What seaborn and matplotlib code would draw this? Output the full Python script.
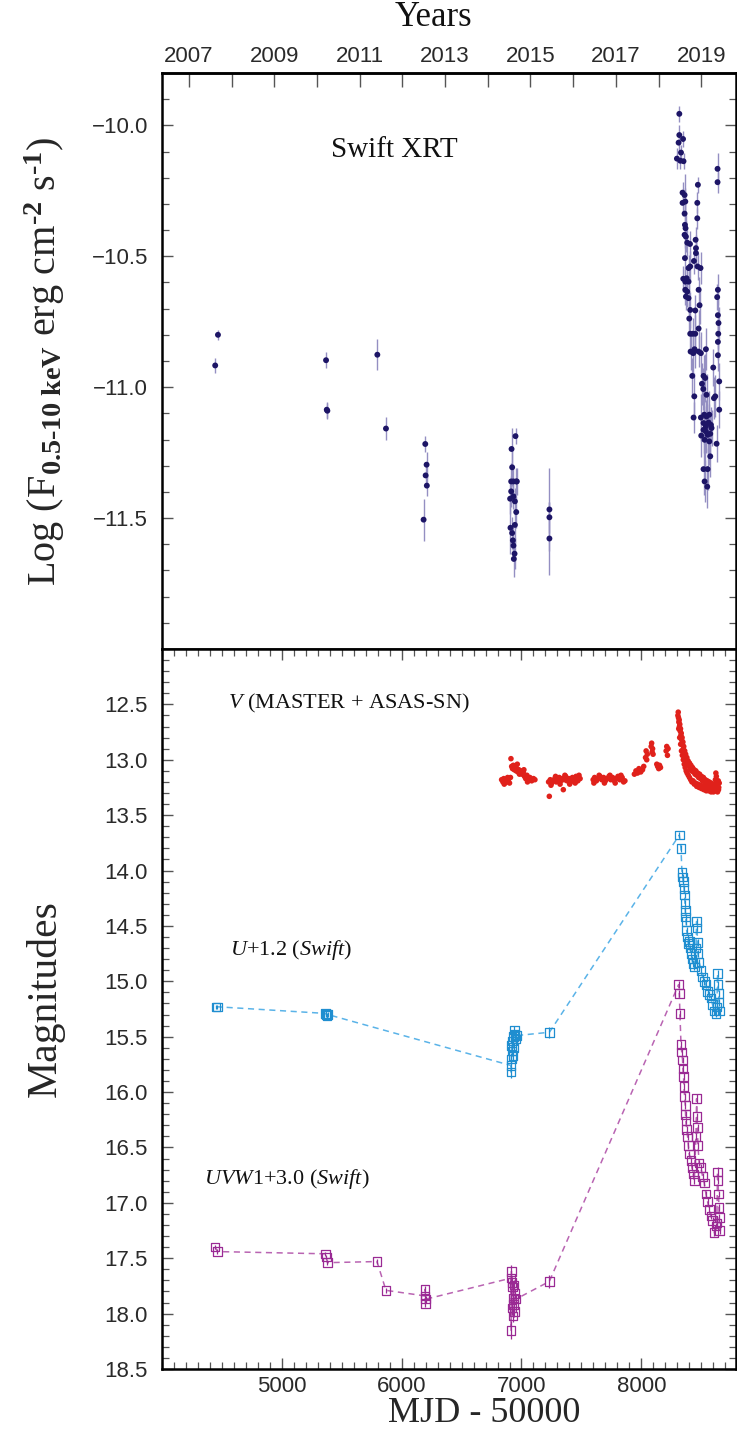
import matplotlib
matplotlib.use("Agg")
import matplotlib.pyplot as plt
from matplotlib.ticker import MultipleLocator, FixedLocator, FuncFormatter
import seaborn as sns

# ---------------- Swift XRT 0.5-10 keV flux (log) ----------------
xrt_mjd = [4444, 4467, 5369, 5375, 5380, 5797, 5869, 6183, 6197, 6200, 6208, 6210,
           6905, 6908, 6914, 6914, 6917, 6922, 6922, 6928, 6933, 6933, 6933, 6936,
           6942, 6945, 6945, 6950, 6956, 6956, 6961,
           7233, 7233, 7233,
           8297, 8311, 8317, 8317, 8325, 8331, 8344, 8344, 8348, 8350, 8352, 8361,
           8361, 8361, 8364, 8364, 8367, 8367, 8367, 8369, 8372, 8372, 8378, 8383,
           8383, 8394, 8394, 8394, 8400, 8406, 8408, 8408, 8408, 8411, 8425, 8428,
           8433, 8436, 8439, 8442, 8444, 8450, 8450, 8453, 8456, 8456, 8467, 8467,
           8469, 8472, 8478, 8478, 8478, 8486, 8494, 8497, 8497, 8500, 8506, 8517,
           8519, 8519, 8519, 8519, 8525, 8528, 8528, 8533, 8539, 8539, 8539, 8544,
           8544, 8550, 8553, 8553, 8561, 8567, 8567, 8575, 8575, 8581, 8586, 8600,
           8606, 8617, 8628, 8633, 8636, 8636, 8639, 8639, 8639, 8639, 8642, 8644,
           8650, 8650]
xrt_logf = [-10.917, -10.800, -10.897, -11.086, -11.090, -10.876, -11.158, -11.506, -11.217, -11.337, -11.296, -11.376,
            -11.426, -11.537, -11.360, -11.398, -11.236, -11.306, -11.557, -11.585, -11.360, -11.417, -11.605, -11.656,
            -11.636, -11.436, -11.526, -11.187, -11.360, -11.477, -11.360,
            -11.467, -11.497, -11.578,
            -10.127, -10.066, -9.956, -10.037, -10.135, -10.104, -10.257, -10.296, -10.052, -10.586, -10.137, -10.266,
            -10.337, -10.418, -10.380, -10.507, -10.291, -10.597, -10.628, -10.393, -10.425, -10.654, -10.584, -10.448,
            -10.635, -10.545, -10.597, -10.660, -10.738, -10.453, -10.539, -10.705, -10.796, -10.864, -10.957, -10.796,
            -10.870, -11.116, -10.518, -11.035, -10.855, -10.707, -10.796, -10.437, -10.469, -10.488, -10.296, -10.355,
            -10.539, -10.227, -10.628, -10.776, -10.864, -10.687, -10.545, -10.870, -11.116, -11.185, -10.987, -11.007,
            -10.957, -11.137, -11.163, -11.313, -11.105, -11.201, -11.360, -10.965, -10.855, -11.150, -11.169, -11.029,
            -11.112, -11.380, -11.182, -11.313, -11.135, -11.105, -11.207, -11.178, -11.264, -11.144, -11.156, -10.925,
            -11.042, -11.035, -11.216, -10.656, -10.166, -10.217, -10.628, -10.725, -10.827, -10.878, -10.796, -10.755,
            -10.978, -11.086]
xrt_err = [0.03, 0.02, 0.03, 0.03, 0.03, 0.06, 0.045, 0.08, 0.03, 0.04, 0.05, 0.04,
           0.06, 0.10, 0.07, 0.06, 0.08, 0.07, 0.06, 0.06, 0.06, 0.05, 0.05, 0.07,
           0.06, 0.05, 0.07, 0.03, 0.05, 0.06, 0.05,
           0.16, 0.06, 0.14,
           0.04, 0.03, 0.03, 0.04, 0.03, 0.03, 0.04, 0.05, 0.03, 0.05, 0.03, 0.08,
           0.06, 0.05, 0.05, 0.06, 0.05, 0.05, 0.06, 0.05, 0.06, 0.05, 0.05, 0.05,
           0.06, 0.05, 0.05, 0.06, 0.06, 0.05, 0.06, 0.07, 0.07, 0.07, 0.07, 0.06,
           0.08, 0.06, 0.05, 0.09, 0.07, 0.06, 0.07, 0.05, 0.05, 0.05, 0.04, 0.04,
           0.05, 0.03, 0.05, 0.07, 0.06, 0.07, 0.06, 0.08, 0.09, 0.08, 0.08, 0.08,
           0.08, 0.08, 0.09, 0.10, 0.09, 0.10, 0.08, 0.09, 0.08, 0.10, 0.08, 0.08,
           0.09, 0.08, 0.07, 0.08, 0.07, 0.09, 0.09, 0.08, 0.08, 0.07, 0.07, 0.07,
           0.08, 0.08, 0.07, 0.05, 0.06, 0.04, 0.06, 0.06, 0.07, 0.06, 0.06, 0.06,
           0.07, 0.07]

# ---------------- V band (MASTER + ASAS-SN) ----------------
v_mjd = [6834, 6845, 6852, 6860, 6870, 6878, 6890, 6900, 6908,
         6912, 6918, 6925, 6932, 6940, 6948, 6955, 6962, 6970, 6978, 6988, 6995,
         7005, 7015, 7025, 7035, 7045, 7058, 7070, 7085, 7100, 7112,
         7226, 7232, 7240, 7252, 7265, 7278, 7290, 7302, 7315, 7328, 7340, 7349,
         7355, 7368, 7380, 7395, 7410, 7425, 7440, 7455, 7470, 7489,
         7598, 7610, 7625, 7640, 7655, 7670, 7685, 7700, 7715, 7730, 7745, 7760,
         7775, 7790, 7805, 7820, 7840, 7863,
         7942, 7955, 7968, 7980, 7995, 8010, 8020, 8035, 8040, 8045, 8050,
         8082, 8086, 8090, 8094, 8098, 8129, 8136, 8145, 8152, 8160,
         8207, 8212, 8218, 8223,
         8305, 8308, 8310, 8313, 8316, 8318, 8321, 8324, 8327, 8330, 8333, 8336,
         8340, 8343, 8347, 8350, 8354, 8358, 8362, 8366, 8370, 8375, 8380, 8385,
         8390, 8396, 8402, 8408, 8414, 8420, 8427, 8434, 8441, 8448, 8455, 8462,
         8470, 8478, 8486, 8494, 8502, 8510, 8518, 8526, 8534, 8542, 8550, 8558,
         8566, 8574, 8582, 8590, 8598, 8606, 8612, 8618, 8622, 8626, 8630, 8634,
         8638, 8642, 8646, 8650,
         # second (fainter) edge of the dense 2018-2019 band
         8312, 8320, 8328, 8335, 8342, 8350, 8358, 8366, 8374, 8382, 8392, 8402,
         8412, 8422, 8432, 8442, 8452, 8462, 8472, 8482, 8492, 8502, 8512, 8522,
         8532, 8542, 8552, 8562, 8572, 8582, 8592, 8602, 8610, 8620, 8628, 8636,
         8644,
         # extra quiescent points
         6856, 6884, 6965, 6983, 7020, 7050, 7246, 7284, 7322, 7362, 7402, 7448,
         7480, 7604, 7648, 7692, 7738, 7782, 7830, 7852]
v_mag = [13.18, 13.20, 13.17, 13.21, 13.19, 13.20, 13.18, 13.21, 13.16,
         12.99, 13.06, 13.08, 13.05, 13.09, 13.07, 13.10, 13.08, 13.11, 13.09, 13.12, 13.10,
         13.13, 13.11, 13.15, 13.17, 13.14, 13.18, 13.16, 13.19, 13.17, 13.18,
         13.20, 13.33, 13.18, 13.21, 13.19, 13.17, 13.20, 13.18, 13.16, 13.19, 13.17, 13.27,
         13.18, 13.15, 13.19, 13.17, 13.20, 13.16, 13.18, 13.15, 13.19, 13.17,
         13.18, 13.16, 13.19, 13.17, 13.15, 13.18, 13.16, 13.19, 13.17, 13.15, 13.18, 13.16,
         13.19, 13.17, 13.15, 13.18, 13.16, 13.19,
         13.13, 13.10, 13.12, 13.08, 13.11, 13.09, 13.06, 12.98, 12.92, 13.00, 12.95,
         12.88, 12.85, 12.93, 12.90, 12.95, 13.04, 13.06, 13.08, 13.05, 13.07,
         12.92, 12.88, 12.96, 12.90,
         12.60, 12.57, 12.62, 12.66, 12.64, 12.70, 12.68, 12.74, 12.72, 12.78, 12.76, 12.82,
         12.80, 12.86, 12.84, 12.90, 12.88, 12.94, 12.92, 12.97, 12.95, 13.00, 12.98, 13.03,
         13.01, 13.05, 13.03, 13.08, 13.05, 13.10, 13.07, 13.11, 13.09, 13.13, 13.10, 13.14,
         13.12, 13.16, 13.13, 13.17, 13.15, 13.19, 13.16, 13.20, 13.18, 13.22, 13.19, 13.23,
         13.20, 13.24, 13.21, 13.25, 13.22, 13.25, 13.23, 13.18, 13.12, 13.15, 13.20, 13.24,
         13.22, 13.19, 13.25, 13.21,
         12.72, 12.80, 12.86, 12.92, 12.96, 13.00, 13.04, 13.07, 13.10, 13.12, 13.14, 13.16,
         13.18, 13.20, 13.19, 13.22, 13.21, 13.24, 13.22, 13.25, 13.23, 13.26, 13.24, 13.27,
         13.25, 13.28, 13.26, 13.28, 13.27, 13.29, 13.27, 13.29, 13.28, 13.26, 13.28, 13.29,
         13.27,
         13.22, 13.16, 13.04, 13.13, 13.09, 13.20, 13.23, 13.15, 13.22, 13.14, 13.22, 13.21,
         13.14, 13.21, 13.14, 13.21, 13.14, 13.21, 13.14, 13.20]

# ---------------- Swift UVOT U (+1.2 mag) ----------------
u_mjd = [4450, 4462, 5365, 5372, 5378, 5384,
         6912, 6913, 6916, 6918, 6921, 6925, 6928, 6931, 6935, 6940, 6945, 6950, 6958,
         7233,
         8317, 8331, 8339, 8344, 8350, 8356, 8361, 8364, 8367, 8370, 8374, 8378,
         8386, 8392, 8400, 8405, 8414, 8422, 8430, 8442, 8456, 8461, 8465, 8469,
         8472, 8483, 8497, 8511, 8525, 8539, 8553, 8567, 8581, 8594, 8608, 8622,
         8630, 8636, 8640, 8644, 8648, 8652]
u_mag = [15.23, 15.23, 15.29, 15.30, 15.31, 15.30,
         15.76, 15.82, 15.70, 15.58, 15.63, 15.54, 15.67, 15.50, 15.60, 15.44, 15.48, 15.52, 15.49,
         15.46,
         13.68, 13.80, 14.02, 14.06, 14.10, 14.16, 14.22, 14.30, 14.36, 14.42, 14.46, 14.54,
         14.60, 14.66, 14.64, 14.70, 14.75, 14.80, 14.84, 14.87, 14.70, 14.46, 14.52, 14.65,
         14.75, 14.83, 14.90, 14.96, 15.00, 15.03, 15.09, 15.12, 15.15, 15.21, 15.27, 15.29,
         15.23, 14.93, 15.03, 15.11, 15.19, 15.27]
u_err = [0.02, 0.02, 0.02, 0.02, 0.02, 0.02,
         0.04, 0.05, 0.05, 0.04, 0.04, 0.04, 0.04, 0.04, 0.04, 0.04, 0.04, 0.04, 0.03,
         0.05,
         0.03, 0.03, 0.03, 0.03, 0.03, 0.03, 0.03, 0.03, 0.03, 0.03, 0.03, 0.03,
         0.03, 0.03, 0.03, 0.03, 0.03, 0.03, 0.03, 0.03, 0.03, 0.03, 0.03, 0.03,
         0.03, 0.03, 0.03, 0.03, 0.03, 0.03, 0.03, 0.03, 0.03, 0.03, 0.03, 0.03,
         0.03, 0.03, 0.03, 0.03, 0.03, 0.03]

# ---------------- Swift UVOT UVW1 (+3.0 mag) ----------------
uvw1_mjd = [4443, 4463, 5364, 5372, 5380, 5794, 5869, 6194, 6196, 6198, 6200,
            6911, 6913, 6916, 6919, 6922, 6925, 6928, 6931, 6934, 6937, 6940, 6945, 6952,
            7232,
            8311, 8317, 8322, 8331, 8337, 8344, 8347, 8352, 8356, 8361, 8367, 8369,
            8372, 8378, 8386, 8392, 8400, 8414, 8422, 8433, 8442, 8456, 8461, 8465,
            8469, 8472, 8483, 8497, 8511, 8525, 8539, 8553, 8567, 8581, 8594, 8608,
            8622, 8630, 8636, 8640, 8644, 8648, 8650, 8654]
uvw1_mag = [17.40, 17.44, 17.46, 17.49, 17.54, 17.53, 17.79, 17.84, 17.78, 17.91, 17.87,
            17.68, 18.15, 17.62, 17.72, 17.95, 17.76, 18.02, 17.86, 17.92, 17.74, 17.98, 17.82, 17.87,
            17.71,
            15.03, 15.11, 15.29, 15.57, 15.64, 15.71, 15.79, 15.86, 15.95, 16.04, 16.12, 16.20,
            16.26, 16.34, 16.40, 16.48, 16.56, 16.62, 16.68, 16.74, 16.80, 16.40, 16.06, 16.22,
            16.32, 16.48, 16.64, 16.68, 16.76, 16.82, 16.92, 16.99, 17.06, 17.12, 17.16, 17.27,
            17.21, 17.18, 16.72, 16.80, 16.92, 17.04, 17.13, 17.25]
uvw1_err = [0.02, 0.02, 0.02, 0.02, 0.02, 0.02, 0.02, 0.03, 0.03, 0.03, 0.03,
            0.05, 0.08, 0.06, 0.05, 0.06, 0.05, 0.06, 0.05, 0.05, 0.04, 0.05, 0.04, 0.04,
            0.06,
            0.03, 0.03, 0.03, 0.03, 0.03, 0.03, 0.03, 0.03, 0.03, 0.03, 0.03, 0.03,
            0.03, 0.03, 0.03, 0.03, 0.03, 0.03, 0.03, 0.03, 0.03, 0.03, 0.04, 0.03,
            0.03, 0.03, 0.03, 0.03, 0.03, 0.03, 0.03, 0.03, 0.03, 0.03, 0.03, 0.03,
            0.03, 0.03, 0.04, 0.03, 0.03, 0.03, 0.03, 0.03]

# tick values / labels
flux_ticks = [-11.5, -11.0, -10.5, -10.0]
mag_ticks = [12.5, 13.0, 13.5, 14.0, 14.5, 15.0, 15.5, 16.0, 16.5, 17.0, 17.5, 18.0, 18.5]
mjd_ticks = [5000, 6000, 7000, 8000]

# calendar-year axis (ticks every year, labels every second year)
year_ticks = list(range(2007, 2021))
year_labels = [str(y) if y % 2 == 1 else "" for y in year_ticks]
year_anchor_mjd = (4225, 8500)   # MJD-50000 of the 2007 and 2019 ticks
year_anchor = (2007, 2019)

# ---------------- style ----------------
sns.set_theme(style="ticks")
plt.rcParams.update({
    "font.family": ["Liberation Sans", "DejaVu Sans"],
    "mathtext.fontset": "custom",
    "mathtext.rm": "Liberation Serif",
    "mathtext.it": "Liberation Serif:italic",
    "mathtext.bf": "Liberation Serif:bold",
    "axes.linewidth": 1.8,
    "axes.edgecolor": "black",
    "xtick.direction": "in",
    "ytick.direction": "in",
    "xtick.color": "#555555",
    "ytick.color": "#555555",
    "xtick.labelcolor": "#2a2a2a",
    "ytick.labelcolor": "#2a2a2a",
})
SERIF = ["Liberation Serif", "DejaVu Serif"]

C_XRT = "#1d1566"
C_XRT_ERR = "#948fc2"
C_V = "#e0211b"
C_U = "#1f8ed0"
C_U_LINE = "#5ab3e8"
C_W1 = "#9a2a94"
C_W1_LINE = "#b964b2"

fig = plt.figure(figsize=(7.37, 14.4), dpi=100)
ax1 = fig.add_axes([162 / 737, 1 - 649 / 1440, 574 / 737, 576 / 1440])
ax2 = fig.add_axes([162 / 737, 1 - 1369 / 1440, 574 / 737, 720 / 1440])

XLIM = (4000, 8790)
minus_fmt = FuncFormatter(lambda v, pos: f"{v:.1f}".replace("-", "\u2212"))


def style_ticks(ax, which_axis, majors, minor, both_sides=True):
    axis = ax.xaxis if which_axis == "x" else ax.yaxis
    axis.set_major_locator(FixedLocator(majors))
    axis.set_minor_locator(MultipleLocator(minor))
    if which_axis == "x":
        ax.tick_params(axis="x", which="both", bottom=True, top=both_sides)
    else:
        ax.tick_params(axis="y", which="both", left=True, right=both_sides)
    ax.tick_params(axis=which_axis, which="major", length=8, width=1.0, labelsize=16)
    ax.tick_params(axis=which_axis, which="minor", length=5, width=0.9)


# ---------------- top panel: X-ray flux ----------------
ax1.errorbar(xrt_mjd, xrt_logf, yerr=xrt_err, fmt="none", ecolor=C_XRT_ERR,
             elinewidth=1.0, capsize=0, zorder=2)
sns.scatterplot(x=xrt_mjd, y=xrt_logf, ax=ax1, color=C_XRT, s=18,
                edgecolor="none", zorder=3, legend=False)
ax1.set_xlim(*XLIM)
ax1.set_ylim(-12.0, -9.8)
style_ticks(ax1, "y", flux_ticks, 0.1)
ax1.yaxis.set_major_formatter(minus_fmt)
ax1.tick_params(axis="y", which="major", pad=10)
ax1.tick_params(axis="x", which="both", bottom=False, top=False,
                labelbottom=False, labeltop=False)
ax1.set_xlabel("")
ax1.set_ylabel(r"Log (F$_{\mathbf{0.5‐10\ keV}}$ erg cm$^{\mathbf{‐2}}$ s$^{\mathbf{‐1}}$)",
               fontsize=29, family=SERIF, va="center")
ax1.yaxis.set_label_coords(-0.204, 0.5)
ax1.text(0.405, 0.866, "Swift XRT", transform=ax1.transAxes, fontsize=21,
         family=SERIF, ha="center", va="center", color="#111111")


def mjd_to_year(m):
    (m0, m1), (y0, y1) = year_anchor_mjd, year_anchor
    return y0 + (m - m0) * (y1 - y0) / (m1 - m0)


def year_to_mjd(y):
    (m0, m1), (y0, y1) = year_anchor_mjd, year_anchor
    return m0 + (y - y0) * (m1 - m0) / (y1 - y0)


secax = ax1.secondary_xaxis("top", functions=(mjd_to_year, year_to_mjd))
secax.xaxis.set_major_locator(FixedLocator(year_ticks))
secax.set_xticklabels(year_labels)
secax.tick_params(axis="x", which="major", direction="in", length=10, width=1.0,
                  labelsize=16, pad=4)
secax.tick_params(axis="x", which="minor", top=False)
ax1.text(0.473, 1.097, "Years", transform=ax1.transAxes, fontsize=25,
         family=SERIF, ha="center", va="center", color="#111111")

# ---------------- bottom panel: optical / UV magnitudes ----------------
# V band
sns.scatterplot(x=v_mjd, y=v_mag, ax=ax2, color=C_V, s=16, edgecolor="none",
                zorder=3, legend=False)

# U and UVW1: dashed connecting line, error bars and open squares
for mjd, mag, err, c, cl in [(u_mjd, u_mag, u_err, C_U, C_U_LINE),
                             (uvw1_mjd, uvw1_mag, uvw1_err, C_W1, C_W1_LINE)]:
    sns.lineplot(x=mjd, y=mag, ax=ax2, color=cl, linestyle=(0, (4, 3)),
                 linewidth=1.1, estimator=None, sort=True, zorder=2, legend=False)
    ax2.errorbar(mjd, mag, yerr=err, fmt="none", ecolor=c, elinewidth=0.9,
                 capsize=0, zorder=3)
    sns.scatterplot(x=mjd, y=mag, ax=ax2, marker="s", s=38, facecolor="none",
                    edgecolor=c, linewidth=0.9, zorder=4, legend=False)

ax2.set_xlim(*XLIM)
ax2.set_ylim(18.5, 12.0)
style_ticks(ax2, "x", mjd_ticks, 100)
style_ticks(ax2, "y", mag_ticks, 0.1)
ax2.yaxis.set_major_formatter(minus_fmt)
ax2.tick_params(axis="y", which="major", pad=10)
ax2.tick_params(axis="x", which="major", pad=5)
ax2.set_xlabel("MJD - 50000", fontsize=26, family=SERIF, va="center")
ax2.xaxis.set_label_coords(0.562, -0.062)
ax2.set_ylabel("Magnitudes", fontsize=30, family=SERIF, va="center")
ax2.yaxis.set_label_coords(-0.204, 0.515)

ax2.text(0.115, 0.925, r"$\mathit{V}$ (MASTER + ASAS-SN)", transform=ax2.transAxes,
         fontsize=16, family=SERIF, ha="left", va="center", color="#111111")
ax2.text(0.118, 0.582, r"$\mathit{U}$+1.2 ($\mathit{Swift}$)", transform=ax2.transAxes,
         fontsize=16, family=SERIF, ha="left", va="center", color="#111111")
ax2.text(0.073, 0.264, r"$\mathit{UVW1}$+3.0 ($\mathit{Swift}$)", transform=ax2.transAxes,
         fontsize=16, family=SERIF, ha="left", va="center", color="#111111")

fig.savefig("out.png", dpi=100)
